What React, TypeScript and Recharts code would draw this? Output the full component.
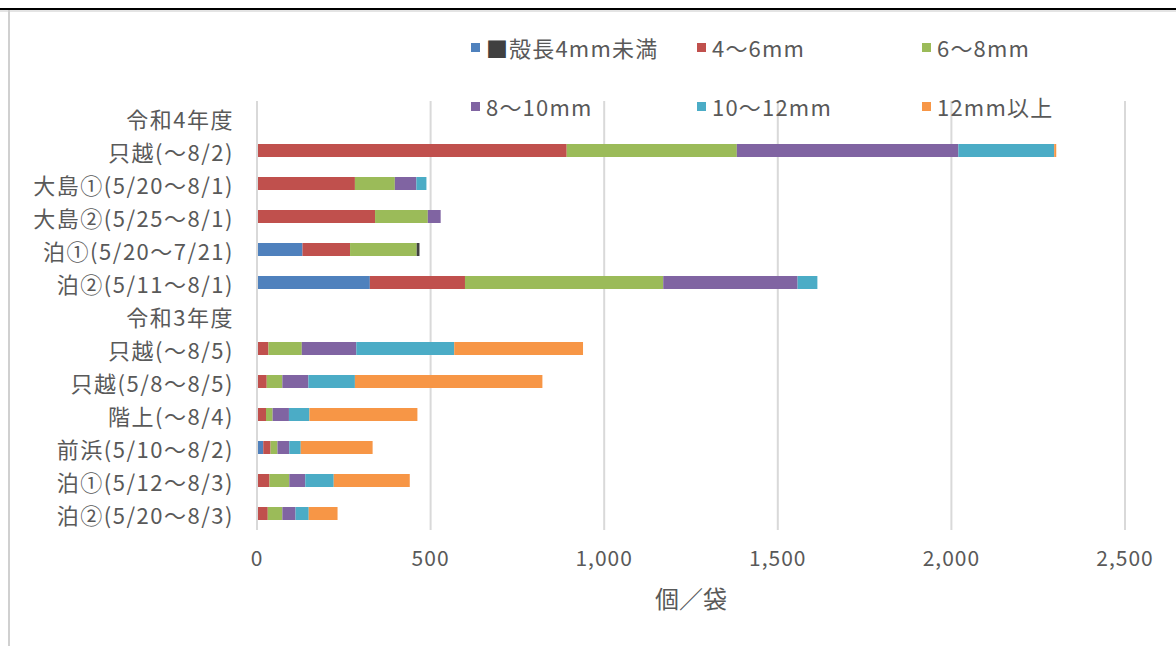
import React from 'react';
import { BarChart, Bar, XAxis, YAxis, CartesianGrid, Legend } from 'recharts';

const categories = [
  '令和4年度',
  '只越(～8/2)',
  '大島①(5/20～8/1)',
  '大島②(5/25～8/1)',
  '泊①(5/20～7/21)',
  '泊②(5/11～8/1)',
  '令和3年度',
  '只越(～8/5)',
  '只越(5/8～8/5)',
  '階上(～8/4)',
  '前浜(5/10～8/2)',
  '泊①(5/12～8/3)',
  '泊②(5/20～8/3)',
];

const under4 = [null, 0, 0, 0, 131, 325, null, 0, 0, 0, 18, 0, 0];
const mm4to6 = [null, 892, 282, 340, 137, 274, null, 33, 28, 26, 21, 36, 31];
const mm6to8 = [null, 490, 115, 152, 192, 571, null, 96, 45, 19, 20, 57, 42];
const mm8to10 = [null, 638, 62, 37, 0, 387, null, 157, 75, 47, 34, 46, 38];
const mm10to12 = [null, 276, 29, 0, 0, 57, null, 282, 134, 59, 33, 82, 38];
const mm12plus = [null, 6, 0, 0, 0, 0, null, 371, 540, 311, 207, 219, 83];
const unknown = [null, 0, 0, 0, 8, 0, null, 0, 0, 0, 0, 0, 0];

const xTicks = [0, 500, 1000, 1500, 2000, 2500];

const seriesKeys = ['under4', 'mm4to6', 'mm6to8', 'mm8to10', 'mm10to12', 'mm12plus', 'unknown'];
const seriesNames = ['殻長4mm未満', '4～6mm', '6～8mm', '8～10mm', '10～12mm', '12mm以上', ''];
const seriesColors = ['#4F81BD', '#C0504D', '#9BBB59', '#8064A2', '#4BACC6', '#F79646', '#404040'];

const data = categories.map((c, i) => ({
  name: c,
  under4: under4[i],
  mm4to6: mm4to6[i],
  mm6to8: mm6to8[i],
  mm8to10: mm8to10[i],
  mm10to12: mm10to12[i],
  mm12plus: mm12plus[i],
  unknown: unknown[i],
}));

const FONT = '"Noto Sans CJK JP", "Noto Sans", sans-serif';
const TEXT = '#595959';

const YTick = (props: any) => {
  const { y, payload } = props;
  return (
    <text x={234} y={y} textAnchor="end" dominantBaseline="central" fill={TEXT} fontSize={22} letterSpacing={1.5} fontFamily={FONT}>
      {payload.value}
    </text>
  );
};

const XTick = (props: any) => {
  const { x, payload } = props;
  return (
    <text x={x} y={557} textAnchor="middle" dominantBaseline="central" fill={TEXT} fontSize={21} letterSpacing={1} fontFamily={FONT}>
      {Number(payload.value).toLocaleString('en-US')}
    </text>
  );
};

const legendLayout = [
  { x: 0, y: 0 },
  { x: 226, y: 0 },
  { x: 451, y: 0 },
  { x: 0, y: 59 },
  { x: 226, y: 59 },
  { x: 451, y: 59 },
];

const LegendContent = () => (
  <div style={{ position: 'relative', width: 640, height: 80, fontFamily: FONT, color: TEXT, fontSize: 22, letterSpacing: 1.2 }}>
    {legendLayout.map((p, i) => (
      <div
        key={seriesKeys[i]}
        style={{ position: 'absolute', left: p.x, top: p.y, display: 'flex', alignItems: 'center', whiteSpace: 'nowrap', lineHeight: '26px' }}
      >
        <span style={{ display: 'inline-block', width: 9, height: 9, background: seriesColors[i], marginRight: 6 }} />
        {i === 0 ? <span style={{ color: '#404040', marginRight: 1, letterSpacing: 0 }}>■</span> : null}
        <span>{seriesNames[i]}</span>
      </div>
    ))}
  </div>
);

export default function App() {
  return (
    <div style={{ position: 'absolute', left: 0, top: 0, width: 1176, height: 646, background: '#fff', overflow: 'hidden' }}>
      <div style={{ position: 'absolute', left: 0, top: 8, width: 1176, height: 2, background: '#000' }} />
      <div style={{ position: 'absolute', left: 0, top: 10, width: 1176, height: 2, background: '#e4e4e4' }} />
      <div style={{ position: 'absolute', left: 8, top: 10, width: 2, height: 636, background: '#d0d0d0' }} />
      <div style={{ position: 'absolute', left: 0, top: 0 }}>
        <BarChart
          width={1176}
          height={646}
          data={data}
          layout="vertical"
          margin={{ top: 101, right: 51, bottom: 56, left: 0 }}
          barCategoryGap={10}
        >
          <CartesianGrid horizontal={false} vertical stroke="#d9d9d9" strokeWidth={2} />
          <XAxis
            type="number"
            domain={[0, 2500]}
            ticks={xTicks}
            axisLine={false}
            tickLine={false}
            tick={<XTick />}
            height={60}
            interval={0}
          />
          <YAxis
            type="category"
            dataKey="name"
            width={257}
            axisLine={{ stroke: '#d9d9d9', strokeWidth: 2 }}
            tickLine={false}
            tick={<YTick />}
            interval={0}
          />
          <Legend
            layout="horizontal"
            verticalAlign="middle"
            align="center"
            wrapperStyle={{ position: 'absolute', top: 34, left: 471, width: 640 }}
            content={<LegendContent />}
          />
          {seriesKeys.map((k, i) => (
            <Bar key={k} dataKey={k} name={seriesNames[i] || 'その他'} stackId="a" fill={seriesColors[i]} isAnimationActive={false} barSize={13} />
          ))}
        </BarChart>
      </div>
      <div
        style={{ position: 'absolute', left: 591, top: 580, width: 200, textAlign: 'center', fontFamily: FONT, fontSize: 24, color: TEXT }}
      >
        個／袋
      </div>
    </div>
  );
}
